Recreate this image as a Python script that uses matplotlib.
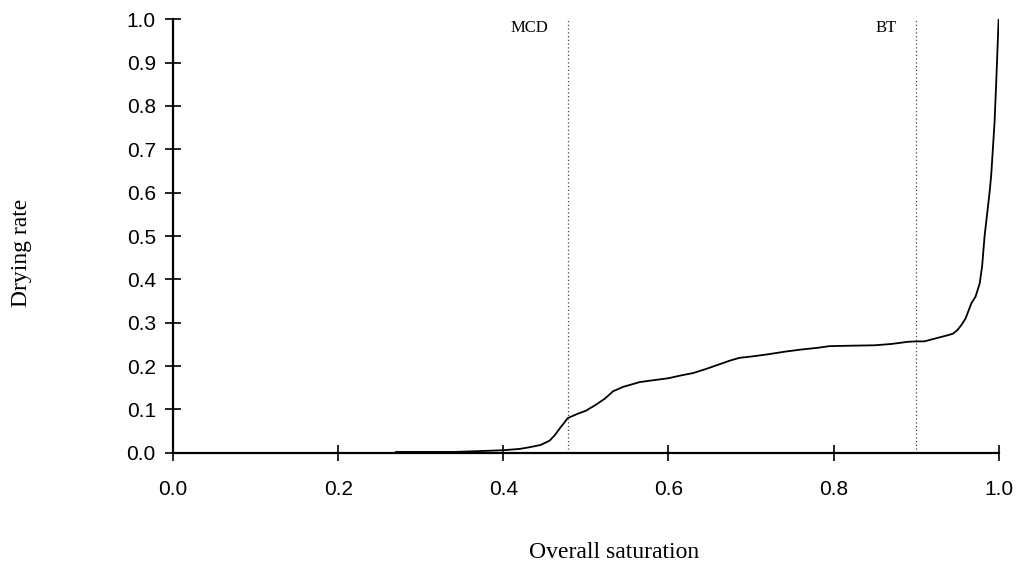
import matplotlib
matplotlib.use("Agg")
import matplotlib.pyplot as plt

saturation = [0.27, 0.30, 0.34, 0.372, 0.40, 0.42, 0.432, 0.445, 0.456, 0.462,
              0.469, 0.474, 0.478, 0.49, 0.50, 0.513, 0.523, 0.533, 0.545,
              0.565, 0.58, 0.60, 0.614, 0.63, 0.645, 0.66, 0.675, 0.686, 0.70,
              0.72, 0.74, 0.76, 0.78, 0.795, 0.82, 0.85, 0.87, 0.89, 0.90,
              0.91, 0.92, 0.93, 0.94, 0.945, 0.95, 0.955, 0.96, 0.967, 0.972,
              0.977, 0.98, 0.983, 0.986, 0.989, 0.991, 0.993, 0.995, 0.997,
              0.999, 1.0]
drying_rate = [0.002, 0.002, 0.002, 0.004, 0.006, 0.009, 0.013, 0.018, 0.028,
               0.04, 0.058, 0.07, 0.08, 0.09, 0.097, 0.112, 0.125, 0.142,
               0.152, 0.163, 0.167, 0.172, 0.178, 0.184, 0.193, 0.203, 0.213,
               0.219, 0.222, 0.227, 0.233, 0.238, 0.242, 0.246, 0.247, 0.248,
               0.251, 0.256, 0.257, 0.257, 0.262, 0.267, 0.272, 0.275, 0.283,
               0.295, 0.31, 0.345, 0.36, 0.39, 0.43, 0.5, 0.55, 0.6, 0.64,
               0.7, 0.76, 0.85, 0.95, 1.0]

markers_x = [0.478, 0.90]
markers_txt = ["MCD", "BT"]

xticks = [0.0, 0.2, 0.4, 0.6, 0.8, 1.0]
yticks = [0.0, 0.1, 0.2, 0.3, 0.4, 0.5, 0.6, 0.7, 0.8, 0.9, 1.0]

fig = plt.figure(figsize=(10.19, 5.66), dpi=100)
ax = fig.add_axes([0.170, 0.200, 0.810, 0.766])

ax.plot(saturation, drying_rate, color="black", lw=1.3)

for xm, txt in zip(markers_x, markers_txt):
    ax.axvline(xm, ymin=0, ymax=1, color="#444444", lw=0.9, ls=(0, (1, 2)))
    ax.text(xm - 0.024, 0.98, txt, ha="right", va="center", fontsize=12,
            family="Liberation Serif")

ax.set_xlim(0, 1.0)
ax.set_ylim(0, 1.0)
ax.set_xticks(xticks)
ax.set_yticks(yticks)
ax.set_xticklabels([f"{v:.1f}" for v in xticks])
ax.set_yticklabels([f"{v:.1f}" for v in yticks])

for side in ["top", "right"]:
    ax.spines[side].set_visible(False)
for side in ["left", "bottom"]:
    ax.spines[side].set_linewidth(1.6)

ax.tick_params(axis="both", direction="inout", length=11, width=1.2,
               labelsize=15, labelfontfamily="Liberation Sans")
ax.tick_params(axis="x", pad=14)
ax.tick_params(axis="y", pad=7)

ax.set_xlabel("Overall saturation", family="Liberation Serif", fontsize=17)
ax.set_ylabel("Drying rate", family="Liberation Serif", fontsize=17)
ax.xaxis.set_label_coords(0.534, -0.205)
ax.yaxis.set_label_coords(-0.171, 0.46)

fig.savefig("out.png", dpi=100)
